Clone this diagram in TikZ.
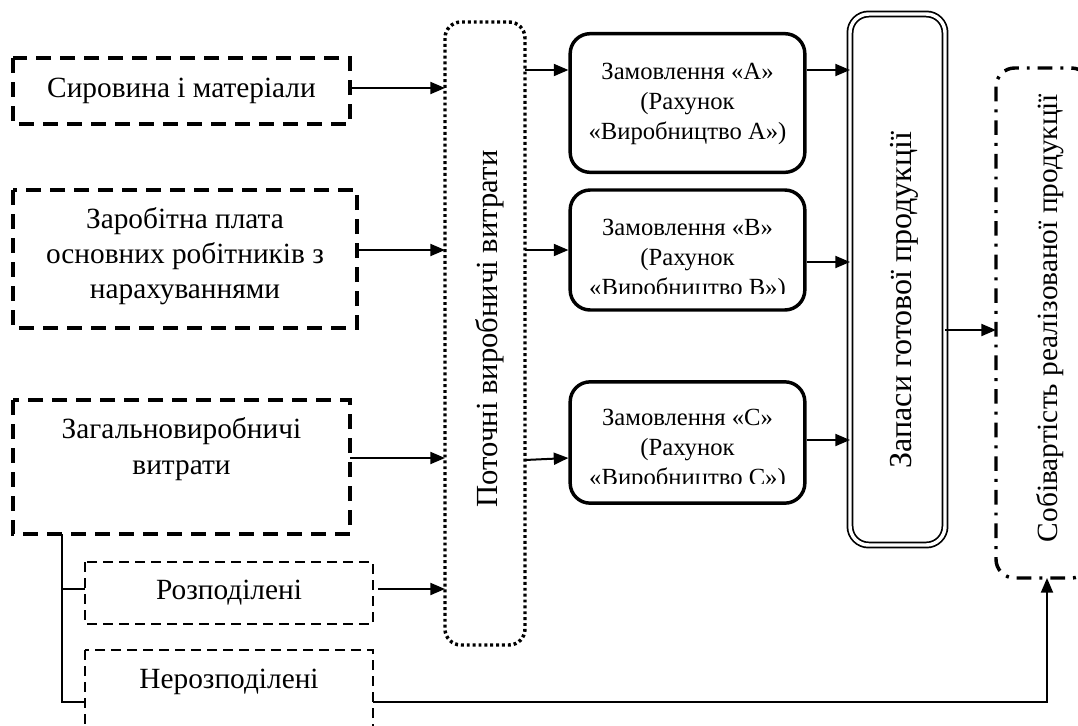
\documentclass[tikz,border=0pt]{standalone}
\usepackage{fontspec}
\setmainfont{Liberation Serif}
\usetikzlibrary{arrows.meta,calc}
\begin{document}
\begin{tikzpicture}[x=0.75pt,y=-0.75pt,
  thickdash/.style={draw, line width=2.6pt, dash pattern=on 11pt off 7pt},
  thindash/.style={draw, line width=1.8pt, dash pattern=on 7.5pt off 4.5pt},
  srcbox/.style={align=center, font=\fontsize{22}{26.5}\selectfont, inner sep=0pt},
  order/.style={draw, line width=2.6pt, rounded corners=15pt, minimum width=176pt, inner sep=0pt},
  ordertext/.style={align=center, font=\fontsize{18.5}{22.5}\selectfont, inner sep=0pt},
  vtext/.style={rotate=90, inner sep=0pt},
  arr/.style={-{Triangle[length=11pt,width=9pt]}, line width=1.5pt},
  ln/.style={line width=1.5pt}
]
\useasboundingbox (0,0) rectangle (1078,725);
\clip (0,0) rectangle (1078,725);
% source boxes
\draw[thickdash] (13,58) rectangle (350,124);
\node[srcbox] (b1) at (181.5,91) {Сировина і матеріали};
\coordinate (b1e) at (350,88);
\draw[thickdash] (13,190) rectangle (357,328);
\node[srcbox] (b2) at (185,256) {Заробітна плата\\основних робітників з\\нарахуваннями};
\coordinate (b2e) at (357,250);
\draw[thickdash] (13,400) rectangle (350,534);
\node[srcbox] (b3) at (181.5,449) {Загальновиробничі\\витрати};
\coordinate (b3e) at (350,458);
\coordinate (b3b) at (62,534);
\draw[thindash] (85,562) rectangle (373,624);
\node[srcbox] (b4) at (229,593) {Розподілені};
\coordinate (b4e) at (378,589);
\coordinate (b4w) at (85,589);
\draw[thindash] (85,650) rectangle (373,740);
\node[srcbox] (b5) at (229,682) {Нерозподілені};
\coordinate (b5e) at (373,702);
\coordinate (b5w) at (85,702);
% current costs
\draw[line width=2.6pt, dash pattern=on 2.2pt off 2.2pt, rounded corners=12pt] (445,22) rectangle (525,645);
\node[vtext, font=\fontsize{23}{26}\selectfont] (cur) at (490,329) {Поточні виробничі витрати};
\coordinate (curW) at (445,333);
\coordinate (curE) at (525,333);
% orders
\node[order, minimum height=104pt] (oA) at (687.5,103) {};
\node[ordertext] (tA) at (687.5,104) {Замовлення «А»\\(Рахунок\\«Виробництво А»)};
\node[order, minimum height=90pt] (oB) at (687.5,250) {};
\begin{scope}
\clip (570,190) rectangle (805,293);
\node[ordertext] (tB) at (687.5,260) {Замовлення «В»\\(Рахунок\\«Виробництво В»)};
\end{scope}
\node[order, minimum height=91pt] (oC) at (687.5,442.5) {};
\begin{scope}
\clip (570,382) rectangle (805,483);
\node[ordertext] (tC) at (687.5,450) {Замовлення «С»\\(Рахунок\\«Виробництво С»)};
\end{scope}
% stock
\draw[double, double distance=2.6pt, line width=1.3pt, rounded corners=14pt] (850,14) rectangle (945,545);
\node[vtext, font=\fontsize{24}{26}\selectfont] (st) at (904,300) {Запаси готової продукції};
\coordinate (stW) at (850,300);
\coordinate (stE) at (945,330);
% cost of sales
\draw[line width=2.6pt, dash pattern=on 11pt off 6pt on 2.2pt off 6pt, rounded corners=14pt] (996,68) rectangle (1090,578);
\node[vtext, font=\fontsize{22}{26}\selectfont] (cs) at (1050,318) {Собівартість реалізованої продукції};
\coordinate (csW) at (996,330);
\coordinate (csB) at (1047,578);
% connectors
\draw[arr] (b1e) -- (b1e -| curW);
\draw[arr] (b2e) -- (b2e -| curW);
\draw[arr] (b3e) -- (b3e -| curW);
\draw[arr] (b4e) -- (b4e -| curW);
\draw[ln] (b3b) |- (b5w);
\draw[ln] (b3b |- b4w) -- (b4w);
\draw[arr] (curE |- 0,70) -- (oA.west |- 0,70);
\draw[arr] (curE |- 0,250) -- (oB.west |- 0,250);
\draw[arr] (curE |- 0,460) -- (oC.west |- 0,458);
\draw[arr] (oA.east |- 0,70) -- (stW |- 0,70);
\draw[arr] (oB.east |- 0,262) -- (stW |- 0,262);
\draw[arr] (oC.east |- 0,440) -- (stW |- 0,440);
\draw[arr] (stE) -- (csW);
\draw[arr] (b5e) -| (csB);
\end{tikzpicture}
\end{document}
